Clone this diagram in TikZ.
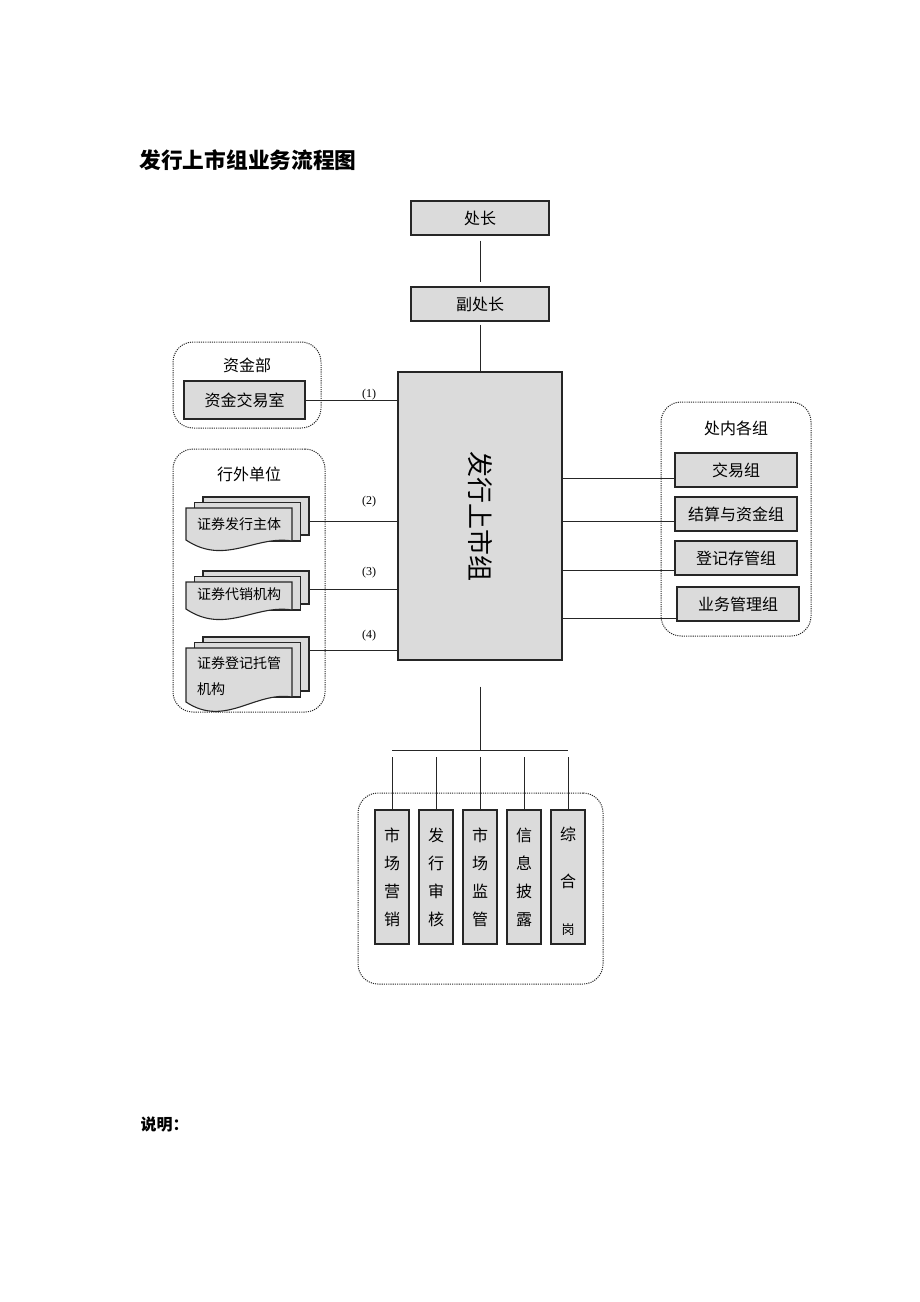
\documentclass[tikz,border=0pt]{standalone}
\usepackage{fontspec}
\setmainfont{Noto Sans CJK SC}
\newfontfamily\labfont{Liberation Serif}
\usetikzlibrary{positioning}
\usetikzlibrary{calc}

\begin{document}
\begin{tikzpicture}[x=1pt,y=-1pt,
    box/.style={draw=black!85, fill=gray!28, line width=1.1pt, inner sep=0pt,
        minimum height=34pt, font=\fontsize{16}{19}\selectfont},
    colbox/.style={box, minimum width=34pt, minimum height=134pt, align=center,
        font=\fontsize{16}{28}\selectfont},
    grp/.style={draw=black!85, dash pattern=on 1.1pt off 1.1pt, line width=1pt, rounded corners=20pt},
    doc/.style={draw=black!85, fill=gray!28, line width=1.1pt},
    link/.style={black!85, line width=0.9pt},
    numlab/.style={font=\labfont\fontsize{12}{14}\selectfont}]
                \useasboundingbox (0,0) rectangle (920,1302);

                % Title
                \node[anchor=west, font=\bfseries\fontsize{21.7}{24}\selectfont] (title) at (136,160) {发行上市组业务流程图};

                % Top of the chain
                \node[box, minimum width=138pt] (cz) at (480,218) {处长};
                \node[box, minimum width=138pt] (fcz) at (480,304) {副处长};
                \node[box, minimum width=164pt, minimum height=288pt] (fxss) at (480,516) {};
                \node[rotate=-90, font=\fontsize{26}{30}\selectfont] (fxsstxt) at (fxss.center) {发行上市组};

                \draw[link, shorten <=5pt, shorten >=4pt] (cz) -- (fcz);
                \draw[link, shorten <=3pt] (fcz) -- (fxss);

                % Groups (containers)
                \node[grp, minimum width=148pt, minimum height=86pt] (zjb) at (247,385) {};
                \node[grp, minimum width=152pt, minimum height=263pt] (hwdw) at (249,580.5) {};
                \node[grp, minimum width=150pt, minimum height=234pt] (cngz) at (736,519) {};
                \node[grp, minimum width=245pt, minimum height=191pt] (gw) at (480.5,888.5) {};

                \node[font=\fontsize{16}{19}\selectfont] (zjbtxt) at (247,365) {资金部};
                \node[font=\fontsize{16}{19}\selectfont] (hwdwtxt) at (249,474) {行外单位};
                \node[font=\fontsize{16}{19}\selectfont] (cngztxt) at (736,428) {处内各组};

                % Left side
                \node[box, minimum width=121pt, minimum height=38pt] (zjjys) at (244.5,400) {资金交易室};
                \draw[link] (zjjys.east) -- (fxss.west |- zjjys.east);
                \node[numlab] at (369,395) {(1)};

                \foreach \nm/\y/\yl/\yr/\ly/\ty/\txt in {fxzt/508/540/541/521/524/{证券发行主体},
                                                          dxjg/582/609/610/589/594/{证券代销机构},
                                                          djtg/648/702/697/650/676/{证券登记托管\\机构}} {
                    \foreach \d in {2,1}
                        \filldraw[doc] (186+\d*8.5,\y-\d*5.5) rectangle (292+\d*8.5,\yr+6-\d*6);
                    \filldraw[doc] (186,\y) -- (292,\y) -- (292,\yr)
                        .. controls (255,\yr-6) and (225,\yl+26) .. (186,\yl) -- cycle;
                    \node[align=left, font=\fontsize{14}{26}\selectfont] (\nm) at (239,\ty) {\txt};
                    \coordinate (\nm-r) at (309.5,\ly);
                    \draw[link] (\nm-r) -- (fxss.west |- \nm-r);
                }
                \node[numlab] at (369,502) {(2)};
                \node[numlab] at (369,573) {(3)};
                \node[numlab] at (369,636) {(4)};

                % Right side
                \node[box, minimum width=122pt] (jyz) at (736,470) {交易组};
                \node[box, minimum width=122pt] (jszj) at (736,514) {结算与资金组};
                \node[box, minimum width=122pt] (djcg) at (736,558) {登记存管组};
                \node[box, minimum width=122pt] (ywgl) at (738,604) {业务管理组};

                \foreach \n/\s in {jyz/8, jszj/7, djcg/12, ywgl/14} {
                    \coordinate (\n-l) at ([yshift=-\s pt]\n.west);
                    \draw[link] (\n-l) -- (fxss.east |- \n-l);
                }

                % Posts at the bottom
                \coordinate (bus) at (480,750);
                \draw[link, shorten <=26pt] (fxss.south) -- (bus);
                \node[colbox] (scyx) at (392,877) {市\\场\\营\\销};
                \node[colbox] (fxsh) at (436,877) {发\\行\\审\\核};
                \node[colbox] (scjg) at (480,877) {市\\场\\监\\管};
                \node[colbox] (xxpl) at (524,877) {信\\息\\披\\露};
                \node[colbox, font=\fontsize{16}{47}\selectfont] (zhg) at (568,877) {};
                \node[align=center, font=\fontsize{16}{47}\selectfont] (zhgtxt) at (568,881) {综\\合\\{\fontsize{13}{47}\selectfont 岗}};

                \draw[link] (scyx.north |- bus) -- (zhg.north |- bus);
                \foreach \n in {scyx, fxsh, scjg, xxpl, zhg}
                    \draw[link, shorten >=7pt] (\n.north) -- (\n.north |- bus);

                % Note
                \node[anchor=west, font=\bfseries\fontsize{16}{19}\selectfont] (note) at (137,1124) {说明：};
            \end{tikzpicture}
\end{document}
